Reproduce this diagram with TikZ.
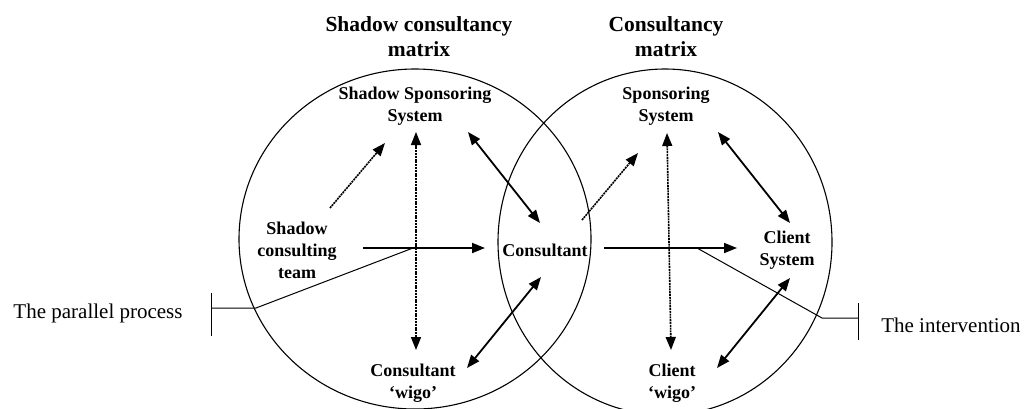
\documentclass[tikz,border=0pt]{standalone}
\usepackage{fontspec}
\setmainfont{Liberation Serif}
\usetikzlibrary{arrows.meta,calc,positioning}
\tikzset{
matrixpic/.style={x=1pt,y=-1pt,>={Triangle[length=13pt,width=10pt]}},
ring/.style={draw,line width=1.1pt},
heading/.style={align=center,inner sep=0pt,font=\fontsize{21.5}{25}\selectfont\bfseries},
party/.style={align=center,inner sep=0pt,font=\fontsize{18}{22}\selectfont\bfseries},
remark/.style={inner sep=0pt,font=\fontsize{21}{25}\selectfont},
influence/.style={line width=1.8pt},
shadowing/.style={line width=1.6pt,dash pattern=on 2pt off 0.8pt},
leader/.style={line width=1pt},
}

\begin{document}
\begin{tikzpicture}[matrixpic]
\useasboundingbox (0,0) rectangle (1032,408);

% the two matrices
\draw[ring] (415,239) ellipse [x radius=176pt,y radius=170pt];
\draw[ring] (665,242) ellipse [x radius=167pt,y radius=173pt];

\node[heading] (stitle) at (419,37) {Shadow consultancy\\matrix};
\node[heading] (ctitle) at (666,37) {Consultancy\\matrix};

\node[party] (ssys) at (415,106) {Shadow Sponsoring\\System};
\node[party] (team) at (297,250) {Shadow\\consulting\\team};
\node[party] (cwigo) at (413,383) {Consultant\\`wigo'};
\node[party] (cons) at (545,250) {Consultant};
\node[party] (sys) at (666,106) {Sponsoring\\System};
\node[party] (client) at (787,250) {Client\\System};
\node[party] (clwigo) at (672,383) {Client\\`wigo'};

\node[remark] (par) at (98,313) {The parallel process};
\node[remark] (int) at (951,325) {The intervention};

% shadow side
\draw[shadowing,->] ($(team)+(33,-42)$) -- ($(ssys)+(-30,37)$);
\draw[shadowing,<->] ($(ssys)+(1,26)$) -- ($(cwigo)+(3,-33)$);
\draw[influence,<->] ($(ssys)+(53,26)$) -- ($(cons)+(-5,-27)$);
\draw[influence,->] ($(team)+(66,-2)$) -- ($(cons)+(-60,-2)$);
\draw[influence,<->] ($(cwigo)+(54,-15)$) -- ($(cons)+(-4,27)$);

% client side
\draw[shadowing,->] ($(cons)+(37,-30)$) -- ($(sys)+(-28,47)$);
\draw[shadowing,<->] ($(sys)+(1,27)$) -- ($(clwigo)+(-1,-33)$);
\draw[influence,<->] ($(sys)+(52,26)$) -- ($(client)+(3,-27)$);
\draw[influence,->] ($(cons)+(59,-2)$) -- ($(client)+(-50,-2)$);
\draw[influence,<->] ($(clwigo)+(45,-15)$) -- ($(client)+(3,28)$);

% leaders
\coordinate (pbend) at (256,308);
\coordinate (pbar) at (211,308);
\coordinate (ibend) at (822,318);
\coordinate (ibar) at (858,318);
\draw[leader] ($(team)+(116,-2)$) -- (pbend) -- (pbar);
\draw[leader] ($(pbar)+(0,-15)$) -- ($(pbar)+(0,28)$);
\draw[leader] ($(cons)+(152,-2)$) -- (ibend) -- (ibar);
\draw[leader] ($(ibar)+(0,-15)$) -- ($(ibar)+(0,22)$);
\end{tikzpicture}
\end{document}
